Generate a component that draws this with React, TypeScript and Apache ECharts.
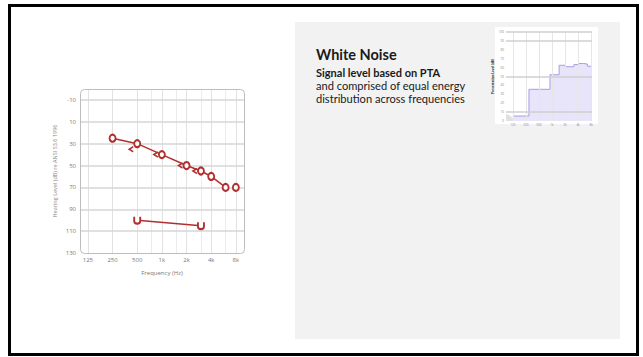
import React, { useEffect, useRef } from "react";
import * as echarts from "echarts";

// ---- Audiogram data ----
const FREQ_TICKS_HZ = [125, 250, 500, 1000, 2000, 4000, 8000];
const FREQ_LABELS = ["125", "250", "500", "1k", "2k", "4k", "8k"];
const INTER_OCTAVE_HZ = [750, 1500, 3000, 6000];
const DB_TICKS = [-10, 10, 30, 50, 70, 90, 110, 130];
const DB_GRID = [-10, 10, 30, 50, 70, 90, 110];

const airFreqHz = [250, 500, 1000, 2000, 3000, 4000, 6000, 8000];
const airDb = [25, 30, 40, 50, 55, 60, 70, 70];
const boneFreqHz = [500, 1000, 2000, 3000];
const boneDb = [35, 40, 50, 55];
const uclFreqHz = [500, 3000];
const uclDb = [100, 105];

// ---- Small white-noise spectrum chart ----
const smallXTicks = [0, 1, 2, 3, 4, 5, 6];
const smallXLabels = ["125", "250", "500", "1k", "2k", "4k", "8k"];
const smallYTicks = [0, 10, 20, 30, 40, 50, 60, 70, 80, 90, 100];
const smallGridY = [10, 50, 90, 100];
const smallBandX = [0, 1.24, 2.85, 3.55, 4.01, 4.68, 5.06, 5.43, 5.72, 6.02];
const smallLevel = [5.6, 35.6, 52, 62.6, 61, 63.4, 64.6, 64, 61.5, 61.5];
const noiseFloorX = [-0.52, -0.2, 0];
const noiseFloorY = [8, 6, 3];

const RED = "#b12f2f";
const oct = (hz: number) => Math.log2(hz / 125);

const freqLabel = (v: number) => {
  const i = FREQ_TICKS_HZ.findIndex((f) => Math.abs(oct(f) - v) < 1e-6);
  return i >= 0 ? FREQ_LABELS[i] : "";
};

const txt = (text: string, x: number, y: number, size: number, weight: string) => ({
  type: "text",
  x,
  y,
  z: 20,
  style: {
    text,
    x: 0,
    y: 0,
    fill: "#1a1a1a",
    fontSize: size,
    fontWeight: weight,
    fontFamily: "Lato, 'Noto Sans', sans-serif",
    textAlign: "left",
    textVerticalAlign: "middle",
    align: "left",
    verticalAlign: "middle",
  },
});

export default function App() {
  const ref = useRef<HTMLDivElement>(null);
  useEffect(() => {
    const chart = echarts.init(ref.current!, null, { renderer: "svg" });
    const option: any = {
      animation: false,
      backgroundColor: "#ffffff",
      textStyle: { fontFamily: "'Open Sans', sans-serif" },
      graphic: [
        {
          type: "rect",
          z: -10,
          shape: { x: 9.5, y: 5.5, width: 628, height: 349 },
          style: { fill: "#ffffff", stroke: "#000000", lineWidth: 3 },
        },
        {
          type: "rect",
          z: -9,
          shape: { x: 295, y: 22, width: 325, height: 317 },
          style: { fill: "#f2f2f2" },
        },
        {
          type: "rect",
          z: -8,
          shape: { x: 495, y: 27, width: 103, height: 97 },
          style: { fill: "#ffffff" },
        },
        {
          type: "rect",
          z: 20,
          shape: { x: 80.5, y: 89.5, width: 164, height: 164, r: 4 },
          style: { fill: "none", stroke: "#bdbdbd", lineWidth: 1 },
        },
        txt("White Noise", 316, 54, 14.5, "bold"),
        txt("Signal level based on PTA", 316, 72.5, 11, "bold"),
        txt("and comprised of equal energy", 316, 85.5, 11.1, "normal"),
        txt("distribution across frequencies", 316, 98.5, 11.1, "normal"),
      ],
      grid: [
        { left: 80, top: 89, width: 164, height: 164 },
        { left: 506, top: 32, width: 86, height: 89 },
      ],
      xAxis: [
        {
          type: "value",
          gridIndex: 0,
          min: -0.32,
          max: 6.33,
          axisLine: { show: false },
          axisTick: { show: false },
          splitLine: { show: false },
          axisLabel: {
            customValues: FREQ_TICKS_HZ.map(oct),
            formatter: freqLabel,
            fontSize: 6,
            color: "#777",
            margin: 4,
          },
          name: "Frequency (Hz)",
          nameLocation: "middle",
          nameGap: 17,
          nameTextStyle: { fontSize: 6, color: "#777" },
        },
        {
          type: "value",
          gridIndex: 1,
          min: -0.52,
          max: 6.07,
          axisLine: { show: false },
          axisTick: { show: false },
          splitLine: { show: false },
          axisLabel: {
            customValues: smallXTicks,
            formatter: (v: number) => smallXLabels[Math.round(v)] ?? "",
            fontSize: 3,
            color: "#6f86b5",
            margin: 2,
          },
        },
      ],
      yAxis: [
        {
          type: "value",
          gridIndex: 0,
          inverse: true,
          min: -20,
          max: 130,
          axisLine: { show: false },
          axisTick: { show: false },
          splitLine: { show: false },
          axisLabel: {
            customValues: DB_TICKS,
            fontSize: 6,
            color: "#777",
            margin: 4,
          },
          name: "Hearing Level (dB) re ANSI S3.6 1996",
          nameLocation: "middle",
          nameGap: 22,
          nameRotate: 90,
          nameTextStyle: { fontSize: 5.5, color: "#888" },
        },
        {
          type: "value",
          gridIndex: 1,
          min: 0,
          max: 100,
          axisLine: { show: false },
          axisTick: { show: false },
          splitLine: { show: false },
          axisLabel: {
            customValues: smallYTicks,
            fontSize: 3,
            color: "#888",
            margin: 2,
          },
          name: "Presentation Level (dB)",
          nameLocation: "middle",
          nameGap: 8,
          nameRotate: 90,
          nameTextStyle: { fontSize: 3, color: "#222", fontWeight: "bold" },
        },
      ],
      series: [
        {
          type: "scatter",
          xAxisIndex: 0,
          yAxisIndex: 0,
          z: 1,
          data: [],
          silent: true,
          markLine: {
            silent: true,
            symbol: "none",
            label: { show: false },
            data: [
              ...FREQ_TICKS_HZ.map((f) => ({ xAxis: oct(f), lineStyle: { color: "#e2e2e2", width: 1, type: "solid" } })),
              ...INTER_OCTAVE_HZ.map((f) => ({ xAxis: oct(f), lineStyle: { color: "#ececec", width: 1, type: "solid" } })),
              ...DB_GRID.map((d) => ({ yAxis: d, lineStyle: { color: "#d6d6d6", width: 1.5, type: "solid" } })),
            ],
          },
        },
        {
          type: "line",
          xAxisIndex: 0,
          yAxisIndex: 0,
          z: 5,
          data: airFreqHz.slice(0, 7).map((f, i) => [oct(f), airDb[i]]),
          symbol: "emptyCircle",
          symbolSize: [6, 7],
          lineStyle: { color: RED, width: 1.5 },
          itemStyle: { color: RED, borderColor: RED, borderWidth: 2 },
        },
        {
          type: "scatter",
          xAxisIndex: 0,
          yAxisIndex: 0,
          z: 5,
          data: airFreqHz.slice(7).map((f, i) => [oct(f), airDb[i + 7]]),
          symbol: "emptyCircle",
          symbolSize: [6, 7],
          itemStyle: { color: RED, borderColor: RED, borderWidth: 2, opacity: 1 },
        },
        {
          type: "scatter",
          xAxisIndex: 0,
          yAxisIndex: 0,
          z: 6,
          data: boneFreqHz.map((f, i) => [oct(f), boneDb[i]]),
          symbol: "path://M10,0 L0,6 L10,12",
          symbolSize: [4, 5],
          symbolOffset: [-6, 0],
          itemStyle: { color: "none", borderColor: RED, borderWidth: 1.5, opacity: 1 },
        },
        {
          type: "line",
          xAxisIndex: 0,
          yAxisIndex: 0,
          z: 5,
          data: uclFreqHz.map((f, i) => [oct(f), uclDb[i]]),
          symbol: "path://M0,0 L0,6 C0,11 10,11 10,6 L10,0",
          symbolSize: [6, 7],
          lineStyle: { color: RED, width: 1.5 },
          itemStyle: { color: "#fff", borderColor: RED, borderWidth: 2 },
        },
        {
          type: "scatter",
          xAxisIndex: 1,
          yAxisIndex: 1,
          z: 1,
          data: [],
          silent: true,
          markLine: {
            silent: true,
            symbol: "none",
            label: { show: false },
            data: [
              ...smallXTicks.map((x) => ({ xAxis: x, lineStyle: { color: "#e6e6e6", width: 1, type: "solid" } })),
              ...smallGridY.map((y) => ({ yAxis: y, lineStyle: { color: "#cfcfcf", width: 1.5, type: "solid" } })),
            ],
          },
        },
        {
          type: "line",
          xAxisIndex: 1,
          yAxisIndex: 1,
          z: 3,
          data: noiseFloorX.map((x, i) => [x, noiseFloorY[i]]),
          symbol: "none",
          lineStyle: { width: 0 },
          areaStyle: { color: "#e0e0e0", opacity: 1 },
        },
        {
          type: "line",
          xAxisIndex: 1,
          yAxisIndex: 1,
          z: 4,
          step: "end",
          data: smallBandX.map((x, i) => [x, smallLevel[i]]),
          symbol: "none",
          lineStyle: { color: "#a89de6", width: 1 },
          areaStyle: { color: "rgba(196,186,242,0.55)" },
        },
      ],
    };
    chart.setOption(option);
    return () => chart.dispose();
  }, []);
  return (
    <div
      ref={ref}
      style={{ position: "fixed", left: 0, top: 0, width: 643, height: 357, background: "#fff" }}
    />
  );
}
